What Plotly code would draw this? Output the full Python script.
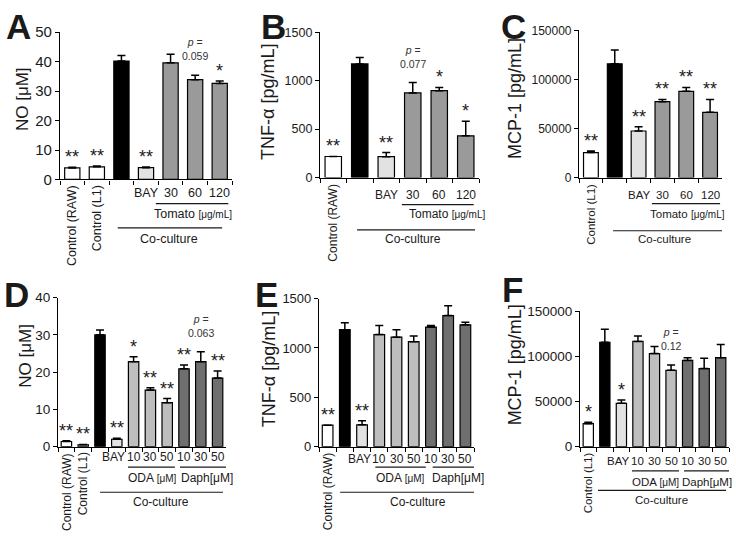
import plotly.graph_objects as go

W, H = 736, 538

# ---- data ----
a_cats = ["Control (RAW)", "Control (L1)", "Co-culture", "BAY", "Tomato 30", "Tomato 60", "Tomato 120"]
a_labels = ["Control (RAW)", "Control (L1)", "", "BAY", "30", "60", "120"]
a_groups = ["ctrl", "ctrl", "co", "bay", "tomato", "tomato", "tomato"]
a_vals = [3.9, 4.3, 40.2, 4.0, 39.6, 33.9, 32.6]
a_err = [0.2, 0.3, 1.9, 0.2, 2.9, 1.5, 0.8]
a_sig = ["**", "**", "", "**", "", "p = 0.059", "*"]

b_cats = ["Control (RAW)", "Co-culture", "BAY", "Tomato 30", "Tomato 60", "Tomato 120"]
b_labels = ["Control (RAW)", "", "BAY", "30", "60", "120"]
b_groups = ["ctrl", "co", "bay", "tomato", "tomato", "tomato"]
b_vals = [217, 1173, 215, 873, 897, 430]
b_err = [0, 67, 42, 107, 33, 150]
b_sig = ["**", "", "**", "p = 0.077", "*", "*"]

c_cats = ["Control (L1)", "Co-culture", "BAY", "Tomato 30", "Tomato 60", "Tomato 120"]
c_labels = ["Control (L1)", "", "BAY", "30", "60", "120"]
c_groups = ["ctrl", "co", "bay", "tomato", "tomato", "tomato"]
c_vals = [25400, 115800, 47400, 77300, 87800, 66400]
c_err = [1600, 14200, 4200, 2300, 4000, 13200]
c_sig = ["**", "", "**", "**", "**", "**"]

d_cats = ["Control (RAW)", "Control (L1)", "Co-culture", "BAY", "ODA 10", "ODA 30", "ODA 50",
          "Daph 10", "Daph 30", "Daph 50"]
d_labels = ["Control (RAW)", "Control (L1)", "", "BAY", "10", "30", "50", "10", "30", "50"]
d_groups = ["ctrl", "ctrl", "co", "bay", "oda", "oda", "oda", "daph", "daph", "daph"]
d_vals = [1.4, 0.5, 30.0, 2.0, 22.8, 15.2, 11.8, 20.9, 22.8, 18.4]
d_err = [0.2, 0.1, 1.3, 0.3, 1.3, 0.6, 1.1, 1.0, 2.7, 1.9]
d_sig = ["**", "**", "", "**", "*", "**", "**", "**", "p = 0.063", "**"]

e_cats = ["Control (RAW)", "Co-culture", "BAY", "ODA 10", "ODA 30", "ODA 50", "Daph 10", "Daph 30", "Daph 50"]
e_labels = ["Control (RAW)", "", "BAY", "10", "30", "50", "10", "30", "50"]
e_groups = ["ctrl", "co", "bay", "oda", "oda", "oda", "daph", "daph", "daph"]
e_vals = [218, 1185, 222, 1135, 1109, 1063, 1211, 1328, 1234]
e_err = [0, 69, 42, 93, 76, 59, 17, 99, 27]
e_sig = ["**", "", "**", "", "", "", "", "", ""]

f_cats = ["Control (L1)", "Co-culture", "BAY", "ODA 10", "ODA 30", "ODA 50", "Daph 10", "Daph 30", "Daph 50"]
f_labels = ["Control (L1)", "", "BAY", "10", "30", "50", "10", "30", "50"]
f_groups = ["ctrl", "co", "bay", "oda", "oda", "oda", "daph", "daph", "daph"]
f_vals = [25500, 115500, 48000, 116500, 103000, 84500, 95500, 86500, 98500]
f_err = [1500, 14500, 3800, 6000, 8000, 6000, 3000, 11500, 14500]
f_sig = ["*", "", "*", "", "", "p = 0.12", "", "", ""]

fill = {"ctrl": "white", "co": "black", "bay": "#e2e2e2", "tomato": "#9a9a9a",
        "oda": "#bebebe", "daph": "#6f6f6f"}

FONT = "Liberation Sans, Arial, sans-serif"
INK = "#1a1a1a"


def px(x):
    return x / W


def py(y):
    return 1 - y / H


panels = [
    dict(letter="A", cats=a_cats, labels=a_labels, groups=a_groups, vals=a_vals, err=a_err, sig=a_sig,
         ytitle="NO [μM]", yr=[0, 50], dtick=10, box=(60, 232, 24, 176), tick=15, lab=12.5,
         letter_xy=(18, 18), title_xy=(22, 93), tsize=17,
         rows=(190, 201, 212, 226, 237),
         sub=[(3.4, 6.35, 4.9, "Tomato <span style='font-size:10px'>[μg/mL]</span>")],
         co=(1.85, 6.1, 3.95)),
    dict(letter="B", cats=b_cats, labels=b_labels, groups=b_groups, vals=b_vals, err=b_err, sig=b_sig,
         ytitle="TNF-α [pg/mL]", yr=[0, 1500], dtick=500, box=(320, 479, 24, 174), tick=12.5, lab=12,
         letter_xy=(273, 18), title_xy=(268, 96), tsize=18,
         rows=(192, 202, 212, 228, 238),
         sub=[(2.59, 5.3, 4.29, "Tomato <span style='font-size:10px'>[μg/mL]</span>")],
         co=(0.9, 5.35, 3.0)),
    dict(letter="C", cats=c_cats, labels=c_labels, groups=c_groups, vals=c_vals, err=c_err, sig=c_sig,
         ytitle="MCP-1 [pg/mL]", yr=[0, 150000], dtick=50000, box=(579, 722, 22, 174), tick=12, lab=11.5,
         letter_xy=(513, 18), title_xy=(515, 93), tsize=18,
         rows=(192, 201, 212, 229, 238),
         sub=[(2.56, 5.42, 4.07, "Tomato <span style='font-size:10px'>[μg/mL]</span>")],
         co=(0.93, 5.5, 3.07)),
    dict(letter="D", cats=d_cats, labels=d_labels, groups=d_groups, vals=d_vals, err=d_err, sig=d_sig,
         ytitle="NO [μM]", yr=[0, 40], dtick=10, box=(58, 226, 298, 452), tick=13.5, lab=12,
         letter_xy=(16, 295), title_xy=(26, 358), tsize=17,
         rows=(463, 473, 484, 499, 509),
         sub=[(3.67, 6.46, 5.1, "ODA <span style='font-size:10px'>[μM]</span>"),
              (6.76, 9.74, 8.37, "Daph[μM]")],
         co=(2.0, 9.32, 5.63)),
    dict(letter="E", cats=e_cats, labels=e_labels, groups=e_groups, vals=e_vals, err=e_err, sig=e_sig,
         ytitle="TNF-α [pg/mL]", yr=[0, 1500], dtick=500, box=(319, 474, 299, 452), tick=13, lab=12,
         letter_xy=(266, 295), title_xy=(269, 372), tsize=18,
         rows=(465, 473, 484, 499, 509),
         sub=[(2.77, 5.7, 4.24, "ODA <span style='font-size:10px'>[μM]</span>"),
              (6.1, 8.9, 7.57, "Daph[μM]")],
         co=(0.73, 8.8, 5.23)),
    dict(letter="F", cats=f_cats, labels=f_labels, groups=f_groups, vals=f_vals, err=f_err, sig=f_sig,
         ytitle="MCP-1 [pg/mL]", yr=[0, 150000], dtick=50000, box=(580, 729, 312, 452), tick=13.5, lab=11.5,
         letter_xy=(512, 290), title_xy=(515, 368), tsize=18,
         rows=(467, 477, 488, 497, 507),
         sub=[(2.64, 5.48, 4.03, "ODA <span style='font-size:10px'>[μM]</span>"),
              (5.78, 8.56, 7.17, "Daph[μM]")],
         co=(0.59, 8.32, 4.45)),
]

fig = go.Figure()
annotations = []
shapes = []
layout_axes = {}

for i, p in enumerate(panels, start=1):
    sfx = "" if i == 1 else str(i)
    xa, ya = "x" + sfx, "y" + sfx
    n = len(p["cats"])
    x0, x1, yt, yb = p["box"]

    fig.add_trace(go.Bar(
        x=p["cats"], y=p["vals"], xaxis=xa, yaxis=ya, width=0.62,
        marker=dict(color=[fill[g] for g in p["groups"]], line=dict(color="black", width=1.2)),
        error_y=dict(type="data", symmetric=False, array=p["err"], arrayminus=[0] * n,
                     color="black", thickness=1.5, width=4),
        hoverinfo="x+y",
    ))

    layout_axes["xaxis" + sfx] = dict(
        domain=[px(x0), px(x1)], anchor=ya, type="category", range=[-0.5, n - 0.5],
        tickson="boundaries", ticks="outside", ticklen=4, tickcolor="black", tickwidth=1.2,
        showticklabels=False, showline=True, linecolor="black", linewidth=1.2,
        showgrid=False, zeroline=False, fixedrange=True)
    layout_axes["yaxis" + sfx] = dict(
        domain=[py(yb), py(yt)], anchor=xa, range=p["yr"], dtick=p["dtick"], tickformat="d",
        ticks="outside", ticklen=4, tickcolor="black", tickwidth=1.2,
        tickfont=dict(family=FONT, size=p["tick"], color=INK),
        showline=True, linecolor="black", linewidth=1.2, showgrid=False, zeroline=False,
        fixedrange=True)

    def note(text, x, y, xref="paper", yref="paper", size=12, **kw):
        d = dict(text=text, x=x, y=y, xref=xref, yref=yref, showarrow=False,
                 xanchor="center", yanchor="middle", font=dict(family=FONT, size=size, color=INK))
        d.update(kw)
        annotations.append(d)

    # panel letter and y title
    lx, ly = p["letter_xy"]
    note("<b>%s</b>" % p["letter"], px(lx), py(ly), size=35)
    tx, ty = p["title_xy"]
    note(p["ytitle"], px(tx), py(ty), size=p["tsize"], textangle=-90)

    # category labels below axis
    r_lab, r_line, r_sub, r_co, r_cotext = p["rows"]
    crowded = n > 8
    for cat, lab in zip(p["cats"], p["labels"]):
        if not lab:
            continue
        if lab.startswith("Control"):
            note(lab, cat, py(yb + 4), xref=xa, size=p["lab"], textangle=-90, yanchor="top")
        elif lab == "BAY" and crowded:
            note(lab, cat, py(r_lab), xref=xa, size=p["lab"], xshift=-3)
        else:
            note(lab, cat, py(r_lab), xref=xa, size=p["lab"])

    for s0, s1, sx, stext in p["sub"]:
        shapes.append(dict(type="line", xref=xa, yref="paper", x0=s0, x1=s1,
                           y0=py(r_line), y1=py(r_line), line=dict(color=INK, width=1.2)))
        note(stext, sx, py(r_sub), xref=xa, size=p["lab"])
    c0, c1, cx = p["co"]
    shapes.append(dict(type="line", xref=xa, yref="paper", x0=c0, x1=c1,
                       y0=py(r_co), y1=py(r_co), line=dict(color=INK, width=1.2)))
    note("Co-culture", cx, py(r_cotext), xref=xa, size=p["lab"])

    # significance marks
    for cat, v, e, s in zip(p["cats"], p["vals"], p["err"], p["sig"]):
        if not s:
            continue
        if s.startswith("p"):
            txt = "<i>p</i> =<br>" + s.split("=")[1].strip()
            note(txt, cat, v + e, xref=xa, yref=ya, yanchor="bottom", yshift=11,
                 font=dict(family=FONT, size=10.5, color="#333"))
        else:
            note(s, cat, v + e, xref=xa, yref=ya, size=18, yanchor="bottom", yshift=-2)

fig.update_layout(
    width=W, height=H, margin=dict(l=0, r=0, t=0, b=0),
    paper_bgcolor="white", plot_bgcolor="white", showlegend=False,
    annotations=annotations, shapes=shapes, **layout_axes,
)

# page body has a default margin; drop it so the figure fills the window
fig.write_html("out.html", config={"displaylogo": False, "responsive": False, "displayModeBar": False},
               post_script="document.body.style.margin='0';document.body.style.overflow='hidden';")
